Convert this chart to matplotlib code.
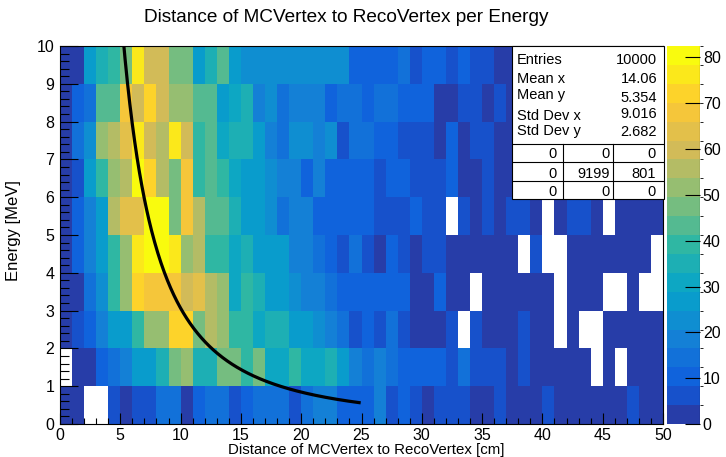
import numpy as np
import matplotlib
matplotlib.use("Agg")
import matplotlib.pyplot as plt
from matplotlib.colors import LinearSegmentedColormap, ListedColormap, BoundaryNorm
from matplotlib.ticker import MultipleLocator
from matplotlib.patches import Rectangle

plt.rcParams['font.family'] = ['Liberation Sans', 'DejaVu Sans']

title = "Distance of MCVertex to RecoVertex per Energy"
xlabel = "Distance of MCVertex to RecoVertex [cm]"
ylabel = "Energy [MeV]"

# bin edges: 50 bins of 1 cm, 10 bins of 1 MeV
x_edges = np.arange(0, 51)
y_edges = np.arange(0, 11)

# bin contents, one list per energy bin (0 = empty -> white)
counts_e0 = [2, 2, 0, 0, 6, 2, 6, 6, 14, 14, 2, 10, 14, 14, 6, 10, 14, 14, 14, 6,
             14, 18, 18, 10, 10, 10, 18, 6, 10, 6, 2, 6, 6, 6, 2, 2, 6, 2, 2, 2,
             6, 2, 2, 2, 2, 2, 2, 6, 2, 2]
counts_e1 = [0, 2, 2, 10, 14, 18, 27, 27, 35, 47, 52, 35, 35, 47, 47, 39, 47, 31, 31, 39,
             31, 31, 35, 27, 18, 14, 18, 14, 10, 10, 10, 10, 6, 14, 6, 6, 6, 2, 6, 2,
             2, 2, 2, 2, 0, 2, 0, 2, 2, 2]
counts_e2 = [2, 6, 10, 18, 27, 27, 39, 52, 52, 72, 72, 47, 56, 52, 39, 39, 31, 35, 35, 27,
             27, 23, 18, 14, 6, 10, 6, 14, 6, 2, 2, 2, 6, 0, 6, 2, 2, 2, 6, 2,
             2, 0, 2, 0, 0, 2, 2, 2, 2, 2]
counts_e3 = [2, 2, 14, 23, 39, 52, 72, 68, 68, 68, 60, 64, 56, 52, 31, 39, 35, 27, 27, 23,
             18, 18, 14, 10, 10, 10, 10, 10, 10, 2, 2, 10, 2, 2, 0, 2, 2, 2, 2, 2,
             2, 0, 2, 2, 2, 0, 0, 2, 0, 0]
counts_e4 = [2, 10, 18, 27, 39, 52, 76, 80, 80, 76, 52, 56, 39, 39, 31, 35, 27, 27, 27, 18,
             18, 14, 10, 6, 14, 6, 2, 10, 6, 2, 6, 6, 2, 2, 2, 2, 2, 2, 0, 6,
             0, 0, 2, 2, 2, 2, 2, 2, 2, 0]
counts_e5 = [2, 10, 18, 27, 56, 64, 64, 80, 82, 47, 68, 56, 43, 43, 35, 27, 27, 23, 14, 18,
             18, 10, 10, 10, 10, 10, 6, 6, 6, 10, 6, 6, 0, 6, 2, 6, 2, 6, 6, 2,
             0, 2, 6, 6, 2, 0, 2, 2, 2, 2]
counts_e6 = [2, 6, 27, 39, 52, 56, 80, 72, 56, 47, 68, 39, 43, 39, 31, 27, 27, 23, 18, 18,
             10, 18, 10, 10, 10, 10, 6, 10, 10, 6, 6, 6, 10, 2, 2, 6, 2, 2, 2, 6,
             2, 2, 2, 2, 6, 2, 2, 2, 2, 2]
counts_e7 = [2, 14, 23, 52, 56, 64, 76, 60, 56, 76, 60, 39, 43, 31, 35, 35, 27, 18, 14, 23,
             23, 18, 23, 6, 14, 14, 10, 10, 6, 6, 6, 2, 10, 2, 6, 6, 2, 2, 2, 2,
             6, 2, 2, 2, 2, 6, 2, 2, 2, 2]
counts_e8 = [2, 10, 14, 43, 43, 68, 60, 72, 60, 52, 52, 43, 43, 27, 31, 35, 18, 23, 14, 18,
             18, 18, 10, 14, 14, 10, 14, 14, 10, 10, 10, 2, 2, 6, 6, 2, 6, 2, 6, 2,
             2, 2, 6, 2, 2, 2, 2, 6, 2, 2]
counts_e9 = [2, 2, 27, 35, 39, 47, 76, 60, 60, 47, 47, 27, 35, 43, 27, 23, 23, 23, 23, 23,
             23, 23, 23, 23, 10, 10, 10, 10, 14, 6, 10, 10, 6, 10, 6, 6, 2, 2, 2, 6,
             2, 2, 2, 6, 2, 2, 2, 2, 6, 2]

z_max = 82.5
n_contours = 20
cbar_ticks = [0, 10, 20, 30, 40, 50, 60, 70, 80]

# fitted curve E(d) = amp * d^-pow
curve_amp = 222.0
curve_pow = 1.86
curve_range = (5.0, 24.8)

stats_labels = ["Entries", "Mean x", "Mean y", "Std Dev x", "Std Dev y"]
stats_values = ["10000", "14.06", "5.354", "9.016", "2.682"]
flow_grid = [["0", "0", "0"], ["0", "9199", "801"], ["0", "0", "0"]]

# ROOT kBird palette, 20 contour colours
stops = [0.0, 0.125, 0.25, 0.375, 0.5, 0.625, 0.75, 0.875, 1.0]
red = [0.2082, 0.0592, 0.0780, 0.0232, 0.1802, 0.5301, 0.8186, 0.9956, 0.9764]
green = [0.1664, 0.3599, 0.5041, 0.6419, 0.7178, 0.7492, 0.7328, 0.7862, 0.9832]
blue = [0.5293, 0.8684, 0.8385, 0.7914, 0.6425, 0.4662, 0.3499, 0.1968, 0.0539]
bird = LinearSegmentedColormap.from_list(
    "bird", [(s, (r, g, b)) for s, r, g, b in zip(stops, red, green, blue)])
level_cols = [bird(int((i + 0.99) * 255 / n_contours) / 254.0) for i in range(n_contours)]
cmap = ListedColormap(level_cols)
norm = BoundaryNorm(np.linspace(0, z_max, n_contours + 1), n_contours)

Z = np.array([counts_e0, counts_e1, counts_e2, counts_e3, counts_e4,
              counts_e5, counts_e6, counts_e7, counts_e8, counts_e9], dtype=float)
Z = np.ma.masked_equal(Z, 0)

W, H = 726, 457
fig = plt.figure(figsize=(W / 100, H / 100), dpi=100)
ax = fig.add_axes([60 / W, 33 / H, 603 / W, 378 / H])
mesh = ax.pcolormesh(x_edges, y_edges, Z, cmap=cmap, norm=norm,
                     shading='flat', antialiased=False, linewidth=0)

cx = np.linspace(curve_range[0], curve_range[1], 300)
ax.plot(cx, curve_amp * cx ** -curve_pow, color='black', lw=2.3)

ax.set_xlim(0, 50)
ax.set_ylim(0, 10)
ax.xaxis.set_major_locator(MultipleLocator(5))
ax.xaxis.set_minor_locator(MultipleLocator(1))
ax.yaxis.set_major_locator(MultipleLocator(1))
ax.yaxis.set_minor_locator(MultipleLocator(0.2))
ax.tick_params(axis='x', which='major', direction='in', length=8, width=0.8,
               labelsize=11.5, pad=3)
ax.tick_params(axis='x', which='minor', direction='in', length=4, width=0.8)
ax.tick_params(axis='y', which='major', direction='in', length=13, width=0.8,
               labelsize=11.5, pad=4)
ax.tick_params(axis='y', which='minor', direction='in', length=6.5, width=0.8)
for sp in ax.spines.values():
    sp.set_linewidth(0.8)

# palette
cax = fig.add_axes([667 / W, 33 / H, 33 / W, 378 / H])
cb = fig.colorbar(mesh, cax=cax, ticks=cbar_ticks)
cb.outline.set_visible(False)
cax.axvline(1, color='black', lw=0.8)
cax.tick_params(direction='in', length=11, width=0.8, labelsize=11.5, pad=2)
cax.set_yticklabels([str(t) for t in cbar_ticks])

# statistics box (pixel coordinates)
sax = fig.add_axes([512 / W, 1 - 199 / H, 152 / W, 153 / H])
sax.set_xlim(512, 664)
sax.set_ylim(199, 46)
sax.axis('off')
sax.add_patch(Rectangle((512, 46), 152, 153, facecolor='white', edgecolor='black',
                        lw=0.8, clip_on=False))
for yy in [143.5, 162, 181]:
    sax.plot([512, 664], [yy, yy], color='black', lw=0.8)
for xx in [562.5, 613]:
    sax.plot([xx, xx], [143.5, 199], color='black', lw=0.8)
label_base = [64, 83, 98.5, 120, 135]
value_base = [64, 83, 101.5, 118.5, 136.5]
for lab, val, yl, yv in zip(stats_labels, stats_values, label_base, value_base):
    sax.text(517, yl, lab, ha='left', va='baseline', fontsize=10.5)
    sax.text(657, yv, val, ha='right', va='baseline', fontsize=10.5)
grid_base = [158.5, 177.5, 196]
cell_right = [557, 610, 656]
for row, yb in zip(flow_grid, grid_base):
    for txt, xr in zip(row, cell_right):
        sax.text(xr, yb, txt, ha='right', va='baseline', fontsize=10.5)

fig.text(346 / W, 1 - 18 / H, title, ha='center', va='center', fontsize=13.7)
fig.text(366 / W, 1 - 450 / H, xlabel, ha='center', va='center', fontsize=10.8)
fig.text(14 / W, 1 - 231 / H, ylabel, ha='center', va='center', rotation=90,
         fontsize=12)

fig.savefig("out.png", dpi=100)
